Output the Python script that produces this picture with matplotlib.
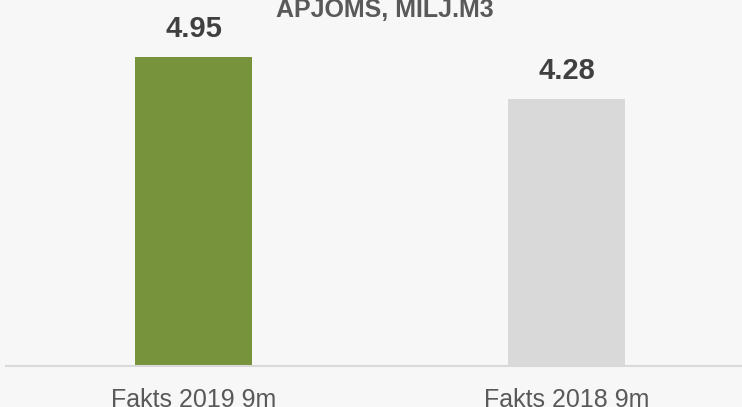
import matplotlib
matplotlib.use('Agg')
import matplotlib.pyplot as plt

# Donnees
categories = ['Fakts 2019 9m', 'Fakts 2018 9m']
valeurs = [4.95, 4.28]
couleurs = ['#77933c', '#d9d9d9']
titre = 'APJOMS, MILJ.M3'

plt.rcParams['font.family'] = ['Liberation Sans Narrow', 'Liberation Sans', 'DejaVu Sans']

fig = plt.figure(figsize=(7.42, 4.07), dpi=100, facecolor='#f7f7f7')
ax = fig.add_axes([6 / 742, 1 - 366 / 407, 736 / 742, 366 / 407])
ax.set_facecolor('#f7f7f7')

x = range(len(categories))
ax.bar(x, valeurs, width=0.314, color=couleurs)

# etiquettes de valeur au-dessus des barres
for xi, v in zip(x, valeurs):
    ax.annotate(f'{v:.2f}', (xi, v), xytext=(0, 10), textcoords='offset points',
                ha='center', va='bottom', fontsize=21, fontweight='bold', color='#404040')

ax.set_xlim(-0.503, 1.47)
ax.set_ylim(0, 5.865)
ax.set_xticks(list(x))
ax.set_xticklabels(categories, fontsize=18, color='#595959')
ax.tick_params(axis='x', length=0, pad=16)
ax.set_yticks([])
for s in ['top', 'right', 'left']:
    ax.spines[s].set_visible(False)
ax.spines['bottom'].set_color('#d9d9d9')
ax.spines['bottom'].set_linewidth(1.5)

fig.text(385 / 742, 1 - 17 / 407, titre, ha='center', va='baseline',
         fontsize=18, fontweight='bold', color='#595959')

fig.savefig('out.png', dpi=100, facecolor=fig.get_facecolor())
